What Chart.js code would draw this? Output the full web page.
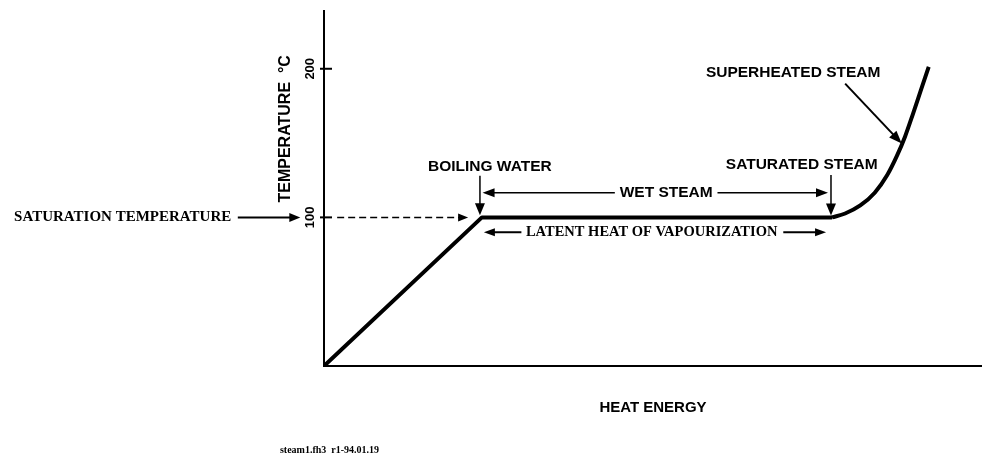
<!DOCTYPE html>
<html><head><meta charset="utf-8">
<script src="https://cdn.jsdelivr.net/npm/chart.js@4"></script>
<style>html,body{margin:0;padding:0;background:#fff}canvas{display:block}</style>
</head><body>
<canvas id="c" width="982" height="463"></canvas>
<script>
// ---- data ----
const heatEnergy = [0, 24, 77.2];
const temperature = [0, 100, 100];
const superheatEnergy = [77.2, 79.2, 81.5, 83.7, 85.6, 87.1, 88.3, 89.5, 90.7, 91.9];
const superheatTemp = [100, 102.6, 108, 116.6, 128.5, 141.7, 154.3, 169.5, 185.4, 201.3];
const yTickValues = [100, 200];
const yTickLabels = ['100', '200'];
const xAxisTitle = 'HEAT ENERGY';
const yAxisTitle = 'TEMPERATURE  °C';
const footnote = 'steam1.fh3  r1-94.01.19';

const SANS = '"Liberation Sans", Arial, Helvetica, sans-serif';
const SERIF = '"Liberation Serif", "Times New Roman", serif';

function head(ctx, x1, y1, x2, y2, len, half) {
  const a = Math.atan2(y2 - y1, x2 - x1), c = Math.cos(a), s = Math.sin(a);
  ctx.beginPath();
  ctx.moveTo(x2, y2);
  ctx.lineTo(x2 - len * c + half * s, y2 - len * s - half * c);
  ctx.lineTo(x2 - len * c - half * s, y2 - len * s + half * c);
  ctx.closePath();
  ctx.fill();
}
function arrow(ctx, x1, y1, x2, y2, w, len, half, dash) {
  const a = Math.atan2(y2 - y1, x2 - x1);
  ctx.save();
  ctx.lineWidth = w;
  if (dash) ctx.setLineDash(dash);
  ctx.beginPath();
  ctx.moveTo(x1, y1);
  ctx.lineTo(x2 - len * 0.7 * Math.cos(a), y2 - len * 0.7 * Math.sin(a));
  ctx.stroke();
  ctx.restore();
  head(ctx, x1, y1, x2, y2, len, half);
}

const annotations = {
  id: 'annotations',
  afterDraw(chart) {
    const ctx = chart.ctx, xs = chart.scales.x, ys = chart.scales.y;
    const X = v => xs.getPixelForValue(v), Y = v => ys.getPixelForValue(v);
    ctx.save();
    ctx.fillStyle = '#000';
    ctx.strokeStyle = '#000';
    // inward tick marks on temperature axis
    ctx.lineWidth = 2;
    yTickValues.forEach(v => {
      ctx.beginPath();
      ctx.moveTo(chart.chartArea.left - 4, Y(v));
      ctx.lineTo(chart.chartArea.left + 8, Y(v));
      ctx.stroke();
    });
    // arrows
    arrow(ctx, X(-13.1), Y(100), X(-3.6), Y(100), 2, 11, 4.5);
    arrow(ctx, X(2), Y(100), X(21.9), Y(100), 1.5, 10, 4, [7, 4]);
    arrow(ctx, X(23.7), Y(128), X(23.7), Y(101.5), 1.5, 12, 5);
    arrow(ctx, X(44.2), Y(116.6), X(24.1), Y(116.6), 1.5, 12, 4.5);
    arrow(ctx, X(59.8), Y(116.6), X(76.6), Y(116.6), 1.5, 12, 4.5);
    arrow(ctx, X(77.05), Y(128.5), X(77.05), Y(101.3), 1.5, 12, 5);
    arrow(ctx, X(30), Y(90), X(24.3), Y(90), 2, 11, 4);
    arrow(ctx, X(69.8), Y(90), X(76.3), Y(90), 2, 11, 4);
    arrow(ctx, X(79.2), Y(190), X(87.8), Y(149.7), 2, 13, 5);
    // labels
    ctx.textBaseline = 'middle';
    ctx.textAlign = 'center';
    ctx.font = 'bold 15.5px ' + SANS;
    ctx.fillText('BOILING WATER', X(25.2), Y(134.4));
    ctx.fillText('WET STEAM', X(52), Y(116.6));
    ctx.fillText('SATURATED STEAM', X(72.6), Y(135.1));
    ctx.fillText('SUPERHEATED STEAM', X(71.3), Y(197.4));
    ctx.font = 'bold 14.5px ' + SERIF;
    ctx.fillText('LATENT HEAT OF VAPOURIZATION', X(49.8), Y(90));
    ctx.textAlign = 'right';
    ctx.font = 'bold 15px ' + SERIF;
    ctx.fillText('SATURATION TEMPERATURE', X(-14.1), Y(100));
    ctx.textAlign = 'left';
    ctx.font = 'bold 10px ' + SERIF;
    ctx.fillText(footnote, X(-6.7), Y(-57));
    // rotated temperature title
    ctx.save();
    ctx.translate(X(-5.8), Y(110));
    ctx.rotate(-Math.PI / 2);
    ctx.font = 'bold 16px ' + SANS;
    ctx.textAlign = 'left';
    ctx.fillText(yAxisTitle, 0, 0);
    ctx.restore();
    ctx.restore();
  }
};

new Chart(document.getElementById('c'), {
  type: 'line',
  data: {
    datasets: [
      {
        data: heatEnergy.map((e, i) => ({x: e, y: temperature[i]})),
        borderColor: '#000', borderWidth: 4, pointRadius: 0, fill: false, tension: 0,
        borderJoinStyle: 'round'
      },
      {
        data: superheatEnergy.map((e, i) => ({x: e, y: superheatTemp[i]})),
        borderColor: '#000', borderWidth: 4, pointRadius: 0, fill: false,
        cubicInterpolationMode: 'monotone'
      }
    ]
  },
  options: {
    responsive: false,
    animation: false,
    devicePixelRatio: 1,
    layout: {padding: {left: 274, top: 5, right: 0, bottom: 0}},
    plugins: {legend: {display: false}, tooltip: {enabled: false}},
    scales: {
      x: {
        type: 'linear', min: 0, max: 100, position: 'bottom',
        grid: {display: false, drawTicks: false},
        border: {display: true, color: '#000', width: 2},
        ticks: {display: false},
        title: {display: true, text: xAxisTitle, color: '#000',
                font: {family: SANS, size: 15, weight: 'bold'}, padding: {top: 0, bottom: 46}},
        afterFit: s => { s.height = 97; }
      },
      y: {
        type: 'linear', min: 0, max: 239, position: 'left',
        grid: {display: false, drawTicks: false},
        border: {display: true, color: '#000', width: 2},
        afterBuildTicks: s => { s.ticks = yTickValues.map(v => ({value: v})); },
        ticks: {
          minRotation: 90, maxRotation: 90, crossAlign: 'center', padding: 3, color: '#000',
          font: {family: SANS, size: 13, weight: 'bold'},
          callback: (v, i) => yTickLabels[i]
        },
        afterFit: s => { s.width = 50; }
      }
    }
  },
  plugins: [annotations]
});
</script>
</body></html>
